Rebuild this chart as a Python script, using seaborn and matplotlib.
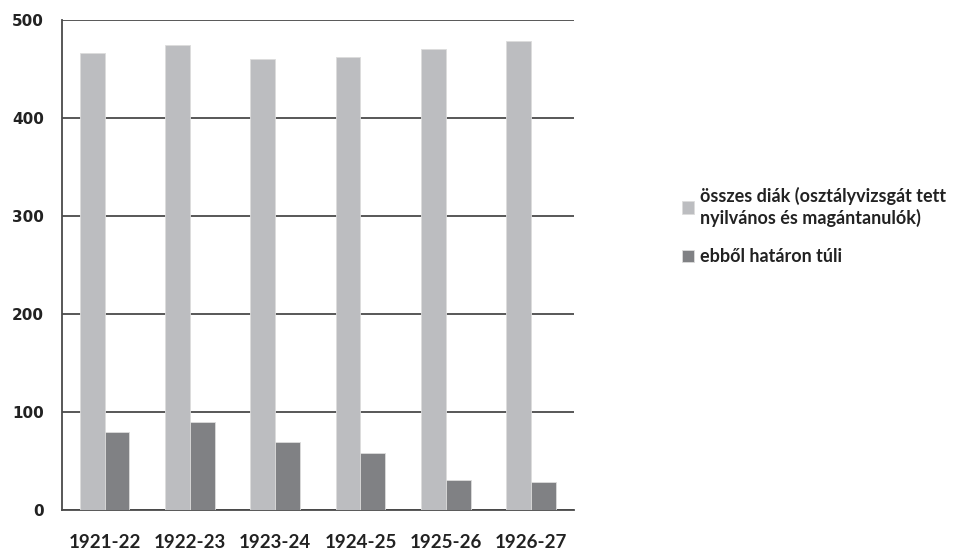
import pandas as pd
import matplotlib.pyplot as plt
import seaborn as sns
from matplotlib.ticker import FixedLocator

# Data
years = ['1921-22', '1922-23', '1923-24', '1924-25', '1925-26', '1926-27']
total = [466, 474, 460, 462, 470, 478]
abroad = [80, 90, 69, 58, 31, 29]
series = ['összes diák (osztályvizsgát tett\nnyilvános és magántanulók)',
          'ebből határon túli']

df = pd.DataFrame({
    'year': years * 2,
    'value': total + abroad,
    'series': [series[0]] * len(years) + [series[1]] * len(years),
})

sns.set_style('white')
plt.rcParams['font.family'] = ['Lato', 'DejaVu Sans']
plt.rcParams['font.weight'] = 'bold'

fig = plt.figure(figsize=(9.6, 5.52), dpi=100)
ax = fig.add_axes([0.0646, 0.076, 0.533, 0.888])

sns.barplot(data=df, x='year', y='value', hue='series', ax=ax,
            palette=['#bcbdc0', '#808184'], width=0.58, saturation=1,
            edgecolor='#dcdcdc', linewidth=0.6, zorder=3)

ax.set_ylim(0, 500)
ax.set_xlim(-0.5, len(years) - 0.5)
ax.set_yticks(range(0, 501, 100))
ax.yaxis.grid(True, color='#4a4a4a', linewidth=1.3, zorder=1)
for b in ax.patches:
    b.set_zorder(3)
ax.xaxis.set_minor_locator(FixedLocator([i - 0.5 for i in range(len(years) + 1)]))
ax.tick_params(axis='x', which='major', length=0, pad=17, labelsize=13.5)
ax.tick_params(axis='x', which='minor', length=7, width=1.2, color='#4a4a4a', direction='out')
ax.tick_params(axis='y', length=6, width=1.2, color='#4a4a4a', direction='out', pad=7)
for lab in ax.get_yticklabels():
    lab.set_fontfamily('DejaVu Sans')
    lab.set_fontsize(11)
    lab.set_color('#222222')
for lab in ax.get_xticklabels():
    lab.set_color('#222222')
ax.set_xlabel('')
ax.set_ylabel('')
for s in ['top', 'right']:
    ax.spines[s].set_visible(False)
for s in ['left', 'bottom']:
    ax.spines[s].set_color('#4a4a4a')
    ax.spines[s].set_linewidth(1.3)

leg = ax.legend(loc='upper left', bbox_to_anchor=(0.693, 0.69), bbox_transform=fig.transFigure,
                frameon=False, fontsize=13, handlelength=0.7, handleheight=0.7,
                handletextpad=0.35, labelspacing=1.2)
for t in leg.get_texts():
    t.set_color('#222222')

fig.savefig('out.png', dpi=100)
